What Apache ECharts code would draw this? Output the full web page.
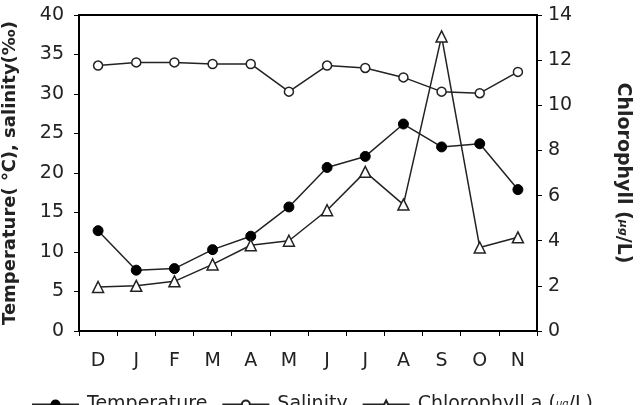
<!DOCTYPE html>
<html>
<head>
<meta charset="utf-8">
<script src="https://cdn.jsdelivr.net/npm/echarts@6/dist/echarts.min.js"></script>
<style>
  html, body { margin: 0; padding: 0; background: #fff; }
  #chart { width: 641px; height: 405px; }
</style>
</head>
<body>
<div id="chart"></div>
<script>
// months (Dec - Nov)
const months = ['D', 'J', 'F', 'M', 'A', 'M', 'J', 'J', 'A', 'S', 'O', 'N']
// left axis
const temperature = [12.7, 7.7, 7.9, 10.3, 12.0, 15.7, 20.7, 22.1, 26.2, 23.3, 23.7, 17.9]
const salinity = [33.6, 34.0, 34.0, 33.8, 33.8, 30.3, 33.6, 33.3, 32.1, 30.3, 30.1, 32.8]
// right axis
const chlorophyll = [1.95, 2.0, 2.2, 2.95, 3.8, 4.0, 5.35, 7.05, 5.6, 13.05, 3.7, 4.15]

const font = 'DejaVu Sans, Liberation Sans, sans-serif'
let chart = echarts.init(document.getElementById('chart'))

const axisCommon = {
  axisLine: { show: true, lineStyle: { color: '#000', width: 2 } },
  axisTick: { show: true, length: 5, lineStyle: { color: '#000', width: 1 } },
  axisLabel: { color: '#222', fontSize: 19, fontFamily: font },
  splitLine: { show: false }
}
const sub = { fontSize: 10, fontStyle: 'italic', fontFamily: font, color: '#222' }

chart.setOption({
  animation: false,
  grid: {
    left: 79, right: 104, top: 15, bottom: 74,
    outerBoundsMode: 'none', containLabel: false,
    show: true, borderColor: '#000', borderWidth: 2, backgroundColor: 'transparent'
  },
  legend: {
    bottom: -14, left: 26,
    itemWidth: 47, itemHeight: 10, itemGap: 14,
    textStyle: {
      fontSize: 19, fontFamily: font, color: '#222', padding: [0, 0, 0, 3],
      rich: { s: sub }
    },
    formatter: n => n === 'Chlorophyll a' ? 'Chlorophyll a ({s|µg}/L)' : n,
    data: ['Temperature', 'Salinity', 'Chlorophyll a']
  },
  xAxis: {
    type: 'category',
    data: months,
    boundaryGap: true,
    ...axisCommon,
    axisLabel: { ...axisCommon.axisLabel, margin: 21 }
  },
  yAxis: [
    {
      type: 'value', min: 0, max: 40, interval: 5,
      ...axisCommon,
      axisLabel: { ...axisCommon.axisLabel, margin: 15 },
      name: 'Temperature( ℃), salinity(‰)',
      nameLocation: 'middle', nameGap: 60,
      nameTextStyle: { fontSize: 18, fontWeight: 'bold', fontFamily: font, color: '#222' }
    },
    {
      type: 'value', min: 0, max: 14, interval: 2,
      ...axisCommon,
      axisLabel: { ...axisCommon.axisLabel, margin: 11 },
      name: 'Chlorophyll ({s|µg}/L)',
      nameLocation: 'middle', nameGap: 76, nameRotate: -90,
      nameTextStyle: {
        fontSize: 19, fontWeight: 'bold', fontFamily: font, color: '#222',
        rich: { s: { ...sub, fontSize: 11 } }
      }
    }
  ],
  series: [
    {
      name: 'Temperature', type: 'line', yAxisIndex: 0, data: temperature,
      symbol: 'circle', symbolSize: 10,
      itemStyle: { color: '#000', borderColor: '#000', borderWidth: 1 },
      lineStyle: { color: '#222', width: 1.5 }
    },
    {
      name: 'Salinity', type: 'line', yAxisIndex: 0, data: salinity,
      symbol: 'circle', symbolSize: 9,
      itemStyle: { color: '#fff', borderColor: '#222', borderWidth: 1.5 },
      lineStyle: { color: '#222', width: 1.5 }
    },
    {
      name: 'Chlorophyll a', type: 'line', yAxisIndex: 1, data: chlorophyll,
      symbol: 'triangle', symbolSize: 11,
      itemStyle: { color: '#fff', borderColor: '#222', borderWidth: 1.5 },
      lineStyle: { color: '#222', width: 1.5 }
    }
  ]
})
</script>
</body>
</html>
